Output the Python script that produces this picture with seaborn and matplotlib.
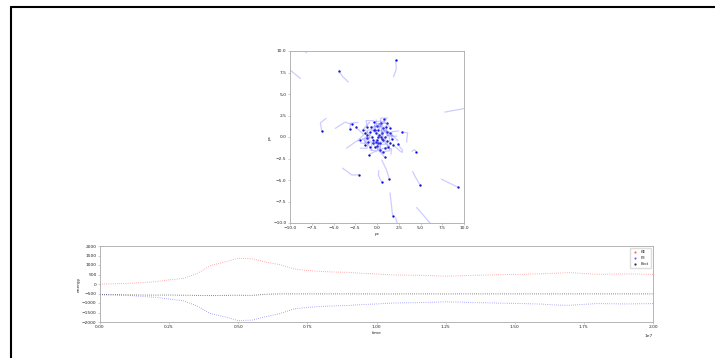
import numpy as np
import pandas as pd
import matplotlib
matplotlib.use("Agg")
import matplotlib.pyplot as plt
from matplotlib.lines import Line2D
import seaborn as sns

# particle positions (pc) at the final step
pos_x = [2.15, -4.37, -6.36, -2.03, 4.48, 0.54, 1.42, 4.94, 9.35, 1.80, -0.92, 2.84, 2.40,
         -2.91, -3.10, -2.41, -1.11, -0.80, -0.34, 0.04, 0.84, 1.03, 0.54, 1.11, 1.49, 1.69,
         1.30, 0.92, 0.34, -0.11, -0.61, -1.19, -1.95, -1.38, -1.65, -0.42, 0.15, 0.54, 0.92,
         1.49, 1.88, -0.23, -0.80, 0.15, 0.65, -0.34, -0.73, 1.19, 0.42, -1.00, -1.38, 0.73,
         0.92, -0.04, -0.50, 0.27, 0.73, 1.19, -0.11, -1.11, 0.34, -0.23, 1.49, -0.04, 0.08, 0.42]
pos_y = [8.90, 7.64, 0.73, -4.40, -1.70, -5.25, -4.90, -5.56, -5.87, -9.20, -2.05, 0.58, -0.85,
         1.47, 0.89, 1.12, 1.12, 0.62, 1.78, 1.27, 2.05, 1.12, 0.42, 0.62, 0.42, -0.27,
         -1.12, -1.31, -0.73, -0.54, 0.04, -0.15, -0.35, 0.42, 0.81, -0.35, 0.04, -0.27, 0.04,
         -0.73, -0.93, -1.12, -1.12, 0.81, 1.00, 0.81, 1.20, 1.58, 1.58, -0.54, -0.93, -1.70,
         -2.36, -1.04, -0.73, 0.23, -0.35, -0.42, 0.42, 0.23, -1.51, 0.81, 1.00, -0.35, -0.73, -0.04]
# where each trail starts (earlier position) and a bend of the trail
tail_x = [1.90, -3.30, -5.86, -3.95, 4.00, 0.20, 0.54, 4.10, 7.40, 1.50, -0.10, 3.40, 2.90,
          -4.80, -2.20, -1.60, -0.40, -1.60, 0.30, 0.90, 0.30, 1.80, -0.30, 0.40, 2.30, 2.50,
          0.60, 1.60, -0.60, 0.70, -1.40, -0.40, -3.50, -2.20, -0.90, 0.40, -0.70, 1.40, 0.20,
          2.30, 2.90, 0.60, -1.70, 1.00, 1.30, -1.20, -0.10, 0.40, 1.20, -1.90, -0.60, 1.40,
          0.40, 0.80, 0.30, -0.60, 1.50, 0.40, 0.70, -1.90, -0.50, 0.50, 0.80, 0.80, -0.80, 1.20]
tail_y = [7.00, 6.40, 2.16, -3.63, -1.65, -3.90, -2.66, -4.00, -4.90, -6.50, -1.70, -0.60, -1.70,
          1.00, 1.70, 0.40, 1.90, -0.20, 0.90, 2.00, 1.20, 0.20, 1.30, 1.50, -0.40, 0.70,
          -0.30, -2.00, -1.60, 0.30, 0.90, -0.90, -1.30, -0.40, 1.60, -1.20, 0.90, 0.60, -0.90,
          0.10, -1.80, -1.80, -0.30, 1.60, 0.20, 0.00, 2.00, 0.70, 2.20, -1.30, -0.10, -0.90,
          -1.50, -1.80, 0.20, 1.00, 0.50, -1.40, 1.30, -0.70, -0.70, 1.60, 1.80, 0.50, -1.50, 0.80]
mid_dx = [0.20, -0.10, -0.40, 0.10, 0.10, -0.20, 0.10, -0.10, 0.00, 0.00, 0.30, 0.40, 0.30,
          0.20, -0.40, 0.40, -0.50, 0.30, 0.50, -0.40, 0.50, -0.20, 0.40, -0.50, 0.50, -0.40,
          0.50, 0.40, -0.50, 0.40, -0.40, 0.50, 0.30, -0.40, 0.40, -0.50, 0.40, -0.30, 0.50,
          -0.50, 0.30, 0.40, -0.40, -0.40, 0.30, -0.30, 0.40, 0.50, -0.40, 0.30, -0.40, 0.40,
          -0.50, 0.40, 0.50, -0.30, -0.40, 0.40, -0.50, 0.30, 0.50, -0.40, 0.40, 0.30, 0.40, -0.30]
mid_dy = [0.00, 0.00, 0.20, -0.40, 0.20, 0.10, 0.00, 0.10, 0.00, 0.00, 0.20, 0.50, -0.30,
          0.50, 0.30, -0.40, 0.40, -0.40, 0.50, -0.30, 0.40, -0.50, 0.30, 0.50, -0.40, 0.40,
          -0.50, 0.30, 0.40, -0.50, 0.40, -0.40, 0.30, -0.40, 0.50, 0.40, -0.30, 0.50, -0.40,
          0.40, -0.30, -0.40, 0.50, 0.30, -0.50, 0.40, -0.40, 0.40, 0.30, -0.40, 0.50, -0.30,
          0.40, -0.40, 0.30, 0.50, -0.40, -0.30, 0.40, -0.50, 0.40, 0.30, -0.30, 0.40, -0.50, 0.30]
# particles that already left the frame (trail only)
lost_x = [[-10.0, -8.8], [-8.3, -8.1], [7.8, 10.0], [4.56, 6.1], [2.15, 2.3]]
lost_y = [[7.8, 6.8], [10.0, 9.8], [2.9, 3.3], [-8.2, -10.0], [-9.4, -10.0]]

# energy history
time = [0.00, 0.05, 0.10, 0.15, 0.20, 0.25, 0.30, 0.35, 0.40, 0.45, 0.50, 0.55, 0.60, 0.65,
        0.70, 0.75, 0.80, 0.85, 0.90, 0.95, 1.00, 1.05, 1.10, 1.15, 1.20, 1.25, 1.30, 1.35,
        1.40, 1.45, 1.50, 1.55, 1.60, 1.65, 1.70, 1.75, 1.80, 1.85, 1.90, 1.95, 2.00]
ke = [0, 10, 30, 70, 120, 220, 290, 540, 970, 1150, 1360, 1330, 1150, 1020,
      800, 710, 660, 630, 610, 560, 530, 480, 470, 460, 440, 410, 430, 460,
      470, 490, 500, 520, 540, 570, 600, 550, 510, 520, 530, 520, 510]
pe = [-560, -575, -600, -650, -700, -790, -880, -1150, -1560, -1720, -1930, -1900, -1720, -1560,
      -1320, -1230, -1180, -1150, -1130, -1080, -1050, -1010, -990, -980, -960, -940, -950, -980,
      -990, -1010, -1020, -1040, -1060, -1110, -1120, -1070, -1030, -1040, -1050, -1040, -1030]
etot = [-560, -565, -570, -580, -585, -580, -590, -600, -610, -600, -590, -600, -540, -520,
        -520, -520, -520, -520, -520, -520, -525, -525, -520, -520, -520, -525, -520, -520,
        -520, -520, -520, -520, -520, -520, -520, -520, -520, -520, -520, -520, -520]

sns.set_style("ticks")
plt.rcParams["font.family"] = ["DejaVu Sans"]
fs = 3.2
spine_col = "#a8a8a8"

fig = plt.figure(figsize=(7.15, 3.58), dpi=100)

# frame
fig.add_artist(Line2D([10.5 / 715, 1.0], [1 - 6.5 / 358, 1 - 6.5 / 358], color="black", lw=1.5))
fig.add_artist(Line2D([10.5 / 715, 10.5 / 715], [0.0, 1 - 6.5 / 358], color="black", lw=1.5))

# ---- particle map ----
ax1 = fig.add_axes([290 / 715, 1 - 223 / 358, 174 / 715, 172 / 358])
rows = []
for i in range(len(pos_x)):
    xs = [tail_x[i], (tail_x[i] + pos_x[i]) / 2 + mid_dx[i], pos_x[i]]
    ys = [tail_y[i], (tail_y[i] + pos_y[i]) / 2 + mid_dy[i], pos_y[i]]
    for k in range(3):
        rows.append({"pid": i, "k": k, "x": xs[k], "y": ys[k]})
for j in range(len(lost_x)):
    for k in range(len(lost_x[j])):
        rows.append({"pid": 100 + j, "k": k, "x": lost_x[j][k], "y": lost_y[j][k]})
trails = pd.DataFrame(rows)
sns.lineplot(data=trails, x="x", y="y", units="pid", estimator=None, sort=False,
             color="#5a5aff", alpha=0.3, lw=0.9, ax=ax1)
sns.scatterplot(x=pos_x, y=pos_y, color="blue", edgecolor="#000080", linewidth=0.2, s=2, ax=ax1)
ax1.set_xlim(-10, 10)
ax1.set_ylim(-10, 10)
ticks = np.arange(-10, 10.1, 2.5)
ax1.set_xticks(ticks)
ax1.set_yticks(ticks)
ax1.set_xlabel("pc", fontsize=fs, labelpad=1)
ax1.set_ylabel("pc", fontsize=fs, labelpad=1)

# ---- energy ----
ax2 = fig.add_axes([100 / 715, 1 - 322 / 358, 553 / 715, 76 / 358])
edf = pd.DataFrame({"time": np.array(time) * 1e7, "KE": ke, "PE": pe, "Etot": etot})
series = [("KE", "red", 0.55), ("PE", "blue", 0.55), ("Etot", "black", 0.8)]
handles = []
for name, col, a in series:
    sns.lineplot(data=edf, x="time", y=name, color=col, alpha=a, lw=0.7, ls=(0, (0.6, 1.6)), ax=ax2)
    handles.append(Line2D([], [], ls="none", marker=".", ms=1.2, color=col, alpha=a, label=name))
ax2.set_xlim(0, 2e7)
ax2.set_ylim(-2000, 2000)
ax2.set_yticks(np.arange(-2000, 2001, 500))
ax2.set_xticks(np.arange(0, 2.01e7, 0.25e7))
ax2.set_xlabel("time", fontsize=fs, labelpad=1)
ax2.set_ylabel("energy", fontsize=fs, labelpad=1)
ax2.xaxis.get_offset_text().set_fontsize(fs)
ax2.legend(handles=handles, loc="upper right", fontsize=fs * 0.9, frameon=True,
           handlelength=1.5, borderpad=0.5, labelspacing=0.5, framealpha=1, edgecolor="#dddddd")

for ax in (ax1, ax2):
    ax.tick_params(labelsize=fs, length=1.5, width=0.4, pad=1, color=spine_col)
    for s in ax.spines.values():
        s.set_color(spine_col)
        s.set_linewidth(0.6)
        s.set_visible(True)

fig.savefig("out.png", dpi=100)
